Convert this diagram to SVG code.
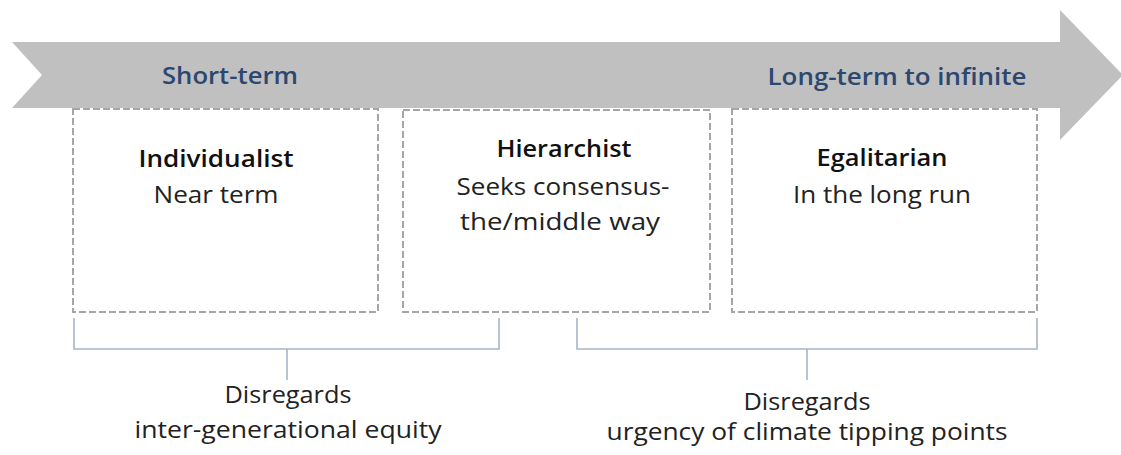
<svg xmlns="http://www.w3.org/2000/svg" width="1121" height="455" viewBox="0 0 1121 455">
<style>
.box{fill:#ffffff;stroke:#a6a6a6;stroke-width:2;stroke-dasharray:7,3}
.hdr{font-family:"Open Sans","Liberation Sans",sans-serif;font-weight:600;font-size:24px;fill:#2c4770;text-anchor:middle}
.ttl{font-family:"Open Sans","Liberation Sans",sans-serif;font-weight:600;font-size:23px;fill:#111111;text-anchor:middle}
.txt{font-family:"Open Sans","Liberation Sans",sans-serif;font-size:23px;fill:#222222;text-anchor:middle}
.br{fill:none;stroke:#a9b4c8;stroke-width:1.6}
</style>
<rect width="1121" height="455" fill="#ffffff"/>
<g id="timeline">
<polygon points="12,42 1060,42 1060,10 1123,75 1060,140 1060,108 12,108 42,75" fill="#c0c0c0"/>
<text class="hdr" x="230" y="84" textLength="136" lengthAdjust="spacingAndGlyphs">Short-term</text>
<text class="hdr" x="897" y="85" textLength="259" lengthAdjust="spacingAndGlyphs">Long-term to infinite</text>
</g>
<g id="individualist">
<rect class="box" x="73" y="109" width="305" height="203"/>
<text class="ttl" x="216" y="167" textLength="155" lengthAdjust="spacingAndGlyphs">Individualist</text>
<text class="txt" x="216" y="203" textLength="125" lengthAdjust="spacingAndGlyphs">Near term</text>
</g>
<g id="hierarchist">
<rect class="box" x="403" y="110" width="307" height="202"/>
<text class="ttl" x="564" y="157" textLength="135" lengthAdjust="spacingAndGlyphs">Hierarchist</text>
<text class="txt" x="563" y="195" textLength="213" lengthAdjust="spacingAndGlyphs">Seeks consensus-</text>
<text class="txt" x="560" y="230" textLength="200" lengthAdjust="spacingAndGlyphs">the/middle way</text>
</g>
<g id="egalitarian">
<rect class="box" x="732" y="109" width="305" height="203"/>
<text class="ttl" x="882" y="166" textLength="131" lengthAdjust="spacingAndGlyphs">Egalitarian</text>
<text class="txt" x="882" y="203" textLength="178" lengthAdjust="spacingAndGlyphs">In the long run</text>
</g>
<g id="connectors">
<path class="br" d="M74,318 V349 H499 V318 M287,349 V380"/>
<path class="br" d="M577,318 V349 H1037 V318 M807,349 V380"/>
</g>
<g id="label-left">
<text class="txt" x="288" y="403" textLength="127" lengthAdjust="spacingAndGlyphs">Disregards</text>
<text class="txt" x="288" y="438" textLength="307" lengthAdjust="spacingAndGlyphs">inter-generational equity</text>
</g>
<g id="label-right">
<text class="txt" x="807" y="410" textLength="127" lengthAdjust="spacingAndGlyphs">Disregards</text>
<text class="txt" x="807" y="440" textLength="401" lengthAdjust="spacingAndGlyphs">urgency of climate tipping points</text>
</g>
</svg>
